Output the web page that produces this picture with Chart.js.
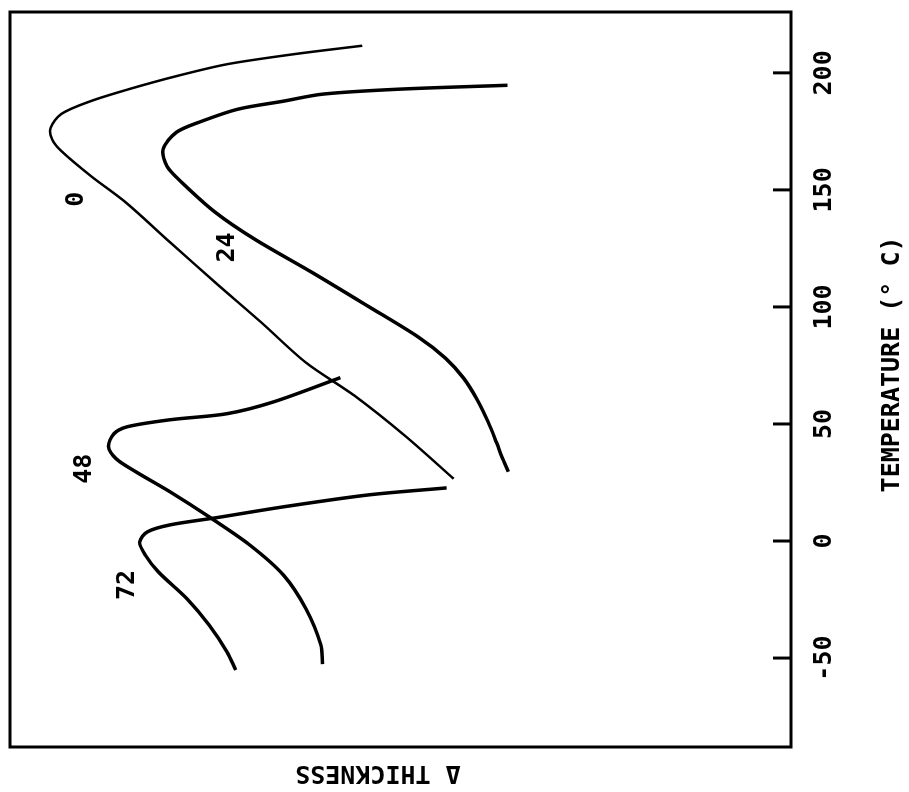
<!DOCTYPE html>
<html>
<head>
<meta charset="utf-8">
<script src="https://cdn.jsdelivr.net/npm/chart.js@4/dist/chart.umd.min.js"></script>
<style>
  html, body { margin: 0; padding: 0; background: #fff; overflow: hidden; }
  /* the figure is printed sideways: draw it upright, then turn it */
  #turn { position: absolute; left: 0; top: 0; width: 792px; height: 909px;
          transform-origin: 0 0; transform: translateY(792px) rotate(-90deg); }
</style>
</head>
<body>
<div id="turn"><canvas id="chart" width="792" height="909" style="width:792px;height:909px;"></canvas></div>
<script>
// temperature (°C) and Δ thickness (arbitrary units) for each ageing time
const temp0   = [211.6, 208.0, 203.7, 198.6, 193.0, 188.0, 182.5, 176.5, 171.6, 166.5, 155.8, 144.7, 127.6, 110.4, 93.3, 76.2, 62.1, 44.6, 26.6];
const thick0  = [54.9, 63.6, 72.2, 78.7, 84.8, 89.6, 93.4, 94.8, 94.6, 93.4, 89.6, 85.2, 79.5, 73.7, 67.8, 62.1, 55.9, 49.3, 43.2];

const temp24  = [194.7, 193.0, 190.9, 187.9, 184.5, 178.9, 174.6, 167.4, 160.1, 153.2, 140.4, 128.8, 114.7, 100.2, 87.3, 78.0, 69.5, 60.5, 51.0, 42.0, 35.0, 29.6];
const thick24 = [36.3, 50.4, 60.0, 65.0, 70.8, 75.8, 78.7, 80.4, 79.9, 78.0, 73.7, 68.6, 61.3, 54.1, 47.8, 44.2, 41.9, 40.2, 38.8, 37.7, 36.9, 36.2];

const temp48  = [69.8, 59.5, 54.4, 51.8, 48.8, 45.8, 40.3, 35.1, 29.6, 21.0, 10.3, -1.7, -14.5, -29.0, -44.4, -52.6];
const thick48 = [57.7, 66.2, 72.2, 79.5, 85.0, 86.7, 87.4, 86.4, 83.9, 79.5, 74.5, 69.3, 65.0, 62.1, 60.2, 60.0];

const temp72  = [22.7, 19.7, 14.6, 9.9, 6.9, 3.9, -0.4, -5.9, -13.2, -24.8, -35.9, -47.4, -55.1];
const thick72 = [44.1, 54.1, 65.0, 73.7, 79.5, 82.4, 83.4, 82.7, 81.0, 77.3, 74.5, 72.2, 71.1];

// curve labels (hours) and where they sit
const curveLabels = ['0', '24', '48', '72'];
const labelTemp   = [146.0, 125.4, 30.9, -18.8];
const labelThick  = [91.5, 72.2, 90.4, 85.0];

const tempTicks = [-50, 0, 50, 100, 150, 200];

const FONT = '"DejaVu Sans Mono", monospace';

function pts(xs, ys) { return xs.map((x, i) => ({ x: x, y: ys[i] })); }

// box round the plot, inward tick marks, curve labels
const framePlugin = {
  id: 'frame',
  afterDraw(chart) {
    const { ctx, chartArea: a, scales: { x, y } } = chart;
    ctx.save();
    ctx.strokeStyle = '#000';
    ctx.lineWidth = 3;
    ctx.strokeRect(a.left, a.top, a.right - a.left, a.bottom - a.top);
    x.ticks.forEach(t => {
      const px = x.getPixelForValue(t.value);
      ctx.beginPath();
      ctx.moveTo(px, a.bottom);
      ctx.lineTo(px, a.bottom - 18);
      ctx.stroke();
    });
    ctx.fillStyle = '#000';
    ctx.font = 'bold 25px ' + FONT;
    ctx.textAlign = 'center';
    ctx.textBaseline = 'middle';
    curveLabels.forEach((s, i) => {
      ctx.fillText(s, x.getPixelForValue(labelTemp[i]), y.getPixelForValue(labelThick[i]));
    });
    ctx.restore();
  }
};

const line = (label, data, w) => ({
  label, data, showLine: true, borderColor: '#000', borderWidth: w,
  pointRadius: 0, tension: 0.3, fill: false
});

new Chart(document.getElementById('chart'), {
  type: 'scatter',
  data: {
    datasets: [
      line('0', pts(temp0, thick0), 2.5),
      line('24', pts(temp24, thick24), 3.5),
      line('48', pts(temp48, thick48), 3.5),
      line('72', pts(temp72, thick72), 3.5)
    ]
  },
  options: {
    responsive: false,
    animation: false,
    layout: { padding: { top: 10, right: 12, left: 0, bottom: 0 } },
    plugins: { legend: { display: false }, tooltip: { enabled: false } },
    scales: {
      x: {
        type: 'linear', min: -88, max: 226,
        afterBuildTicks: s => { s.ticks = tempTicks.map(v => ({ value: v })); },
        grid: { display: false, drawTicks: false },
        border: { display: false },
        ticks: { padding: 18, color: '#000', font: { family: FONT, size: 25, weight: 'bold' }, maxRotation: 0 },
        title: { display: true, text: '  TEMPERATURE (° C)', color: '#000',
                 font: { family: FONT, size: 25, weight: 'bold' }, padding: { top: 20, bottom: 2 } }
      },
      y: {
        type: 'linear', min: 0, max: 100,
        grid: { display: false, drawTicks: false },
        border: { display: false },
        ticks: { display: false },
        title: { display: true, text: '   Δ THICKNESS', color: '#000',
                 font: { family: FONT, size: 25, weight: 'bold' }, padding: { top: 4, bottom: 11 } }
      }
    }
  },
  plugins: [framePlugin]
});
</script>
</body>
</html>
